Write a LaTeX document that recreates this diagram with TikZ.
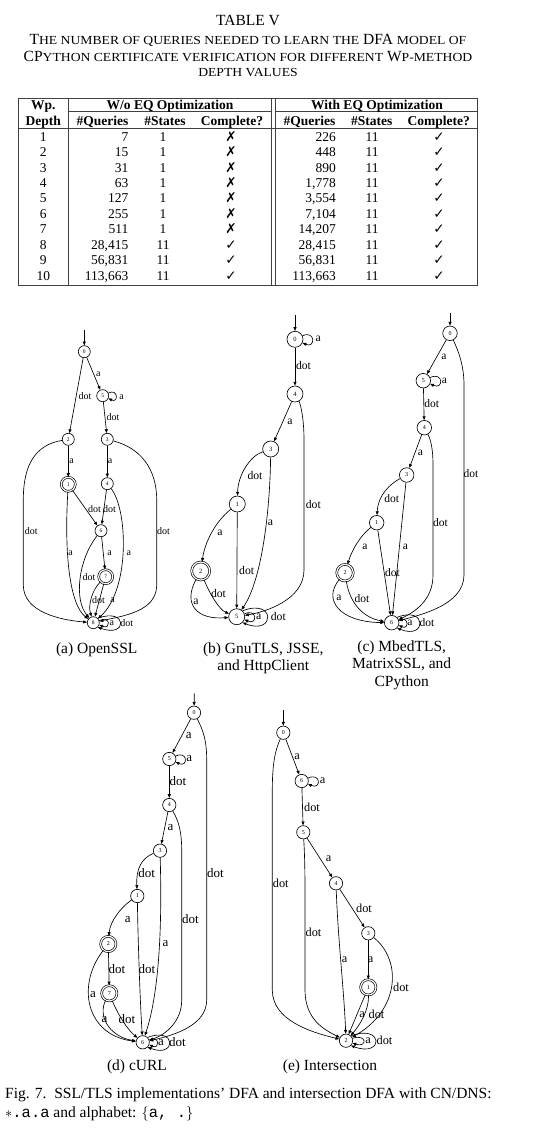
\documentclass[tikz,border=0pt]{standalone}
\usepackage{fontspec}
\setmainfont{Liberation Serif}
\setmonofont{Liberation Mono}
\newfontfamily\symf{DejaVu Sans}
\newfontfamily\scf[FakeStretch=1.11]{Liberation Serif}
\usetikzlibrary{arrows.meta}
\newcommand\smc[1]{{\scf\fontsize{12.3}{12.3}\selectfont #1}}
\newcommand\cmk{{\symf\fontsize{13.5}{13.5}\selectfont ✓}}
\newcommand\xmk{{\symf\fontsize{13.5}{13.5}\selectfont ✗}}
\tikzset{
 tline/.style={line width=0.7pt,draw=black!75},
 tcap/.style={font=\fontsize{15.5}{15.5}\selectfont,inner sep=0pt,text height=10.2pt,text depth=0pt},
 thd/.style={font=\fontsize{13.5}{13.5}\selectfont\bfseries,inner sep=0pt,text height=8.9pt,text depth=0pt},
 tcell/.style={font=\fontsize{13.5}{13.5}\selectfont,inner sep=0pt,text height=8.9pt,text depth=0pt},
 subcap/.style={font=\fontsize{15.5}{15.5}\selectfont,inner sep=0pt,text height=10.2pt,text depth=0pt},
 figcap/.style={font=\fontsize{15.5}{15.5}\selectfont,inner sep=0pt,text height=10.2pt,text depth=0pt},
 st/.style={circle,draw,line width=0.65pt,inner sep=0pt,minimum size=12pt,font=\fontsize{5.5}{5.5}\selectfont},
 acc/.style={st,double,double distance=1.2pt},
 elab/.style={inner sep=0pt,font=\fontsize{10}{10}\selectfont},
 trans/.style={-{Triangle[length=3.8pt,width=3pt]},line width=0.65pt},
}
\newcommand\trow[6]{%
 \pgfmathsetmacro\ry{136.7+15.44*(#1-1)}%
 \node[tcell] (d#1) at (43.3,\ry) {#2};
 \node[tcell,anchor=east] (q#1) at (128.5,\ry) {#3};
 \node[tcell] (s#1) at (163,\ry) {#4};
 \node[tcell] (c#1) at (231,\ry) {#5};
 \node[tcell,anchor=east] (qq#1) at (336,\ry) {#6};
 \node[tcell] (ss#1) at (372,\ry) {11};
 \node[tcell] (cc#1) at (439,\ry) {\cmk};
}
\begin{document}
\begin{tikzpicture}[x=1pt,y=-1pt]
\useasboundingbox[fill=white] (0,0) rectangle (538,1140);
% ---------- table caption
\node[tcap] (t1) at (248,20) {TABLE V};
\node[tcap] (t2) at (248,39) {T\smc{HE NUMBER OF QUERIES NEEDED TO LEARN THE} DFA \smc{MODEL OF}};
\node[tcap] (t3) at (248,56) {CP\smc{YTHON CERTIFICATE VERIFICATION FOR DIFFERENT} W\smc{P-METHOD}};
\node[tcap,text height=7.8pt] (t4) at (248,73) {\smc{DEPTH VALUES}};
% ---------- table
\draw[tline] (18.3,98.3) -- (477.7,98.3);
\draw[tline] (68.3,111.7) -- (271,111.7);
\draw[tline] (275,111.7) -- (477.7,111.7);
\draw[tline] (18.3,128.3) -- (477.7,128.3);
\draw[tline] (18.3,285.7) -- (477.7,285.7);
\foreach \x in {18.3,68.3,271,275,477.7} \draw[tline] (\x,98.3) -- (\x,285.7);
\node[thd] (h1) at (43.3,105) {Wp.};
\node[thd] (h2) at (43.3,121) {Depth};
\node[thd] (h3) at (170,105) {W/o EQ Optimization};
\node[thd] (h4) at (377,105) {With EQ Optimization};
\node[thd] (h5) at (102.5,121) {\#Queries};
\node[thd] (h6) at (165,121) {\#States};
\node[thd] (h7) at (232,121) {Complete?};
\node[thd] (h8) at (309.5,121) {\#Queries};
\node[thd] (h9) at (371.7,121) {\#States};
\node[thd] (h10) at (438.7,121) {Complete?};
\trow{1}{1}{7}{1}{\xmk}{226}
\trow{2}{2}{15}{1}{\xmk}{448}
\trow{3}{3}{31}{1}{\xmk}{890}
\trow{4}{4}{63}{1}{\xmk}{1,778}
\trow{5}{5}{127}{1}{\xmk}{3,554}
\trow{6}{6}{255}{1}{\xmk}{7,104}
\trow{7}{7}{511}{1}{\xmk}{14,207}
\trow{8}{8}{28,415}{11}{\cmk}{28,415}
\trow{9}{9}{56,831}{11}{\cmk}{56,831}
\trow{10}{10}{113,663}{11}{\cmk}{113,663}
% ---------- (a) OpenSSL
\begin{scope}[st/.append style={minimum size=12pt},acc/.append style={minimum size=14pt},elab/.append style={font=\fontsize{10}{10}\selectfont}]
\node[st] (a0) at (84.3,351.7) {0};
\node[st] (a5) at (102.7,395.7) {5};
\node[st] (a2) at (68.3,439.3) {2};
\node[st] (a3) at (107.3,439.3) {3};
\node[acc] (a1) at (68.3,484.3) {1};
\node[st] (a4) at (107.3,483.7) {4};
\node[st] (a6) at (101,530.7) {6};
\node[acc] (a7) at (105.7,576.7) {7};
\node[st] (a8) at (93.3,622.7) {8};
\coordinate (ai) at (84.3,330);
\draw[trans] (ai) -- (a0);
\draw[trans] (a0) -- (a2) node[elab,at={(85,395.7)}] {dot};
\draw[trans] (a0) -- (a5) node[elab,at={(98.3,374)}] {a};
\draw[trans] (a5.25) .. controls +(10,-5) and +(10,5) .. (a5.-25) node[elab,at={(121.7,396.7)}] {a};
\draw[trans] (a5) -- (a3) node[elab,at={(113,416.7)}] {dot};
\draw[trans] (a2) -- (a1) node[elab,at={(71.5,461)}] {a};
\draw[trans] (a3) -- (a4) node[elab,at={(110,461)}] {a};
\draw[trans] (a2) .. controls (35,445) and (23.3,465) .. (23.3,500) -- (23.3,585) .. controls (23.3,612) and (60,620) .. (a8) node[elab,at={(31.3,530.7)}] {dot};
\draw[trans] (a3) .. controls (140,448) and (156.7,468) .. (156.7,500) -- (156.7,585) .. controls (156.7,612) and (122,616) .. (a8) node[elab,at={(163.5,530.7)}] {dot};
\draw[trans] (a1) -- (a6) node[elab,at={(94.5,509)}] {dot};
\draw[trans] (a4) -- (a6) node[elab,at={(109.5,509)}] {dot};
\draw[trans] (a1) .. controls (64,555) and (70,605) .. (a8) node[elab,at={(70.5,553)}] {a};
\draw[trans] (a4) .. controls (128,510) and (130,590) .. (a8) node[elab,at={(128.8,553)}] {a};
\draw[trans] (a6) -- (a7) node[elab,at={(109.5,553)}] {a};
\draw[trans] (a6) .. controls (78,560) and (74,600) .. (a8) node[elab,at={(89,576.7)}] {dot};
\draw[trans] (a7) .. controls (92,590) and (88,605) .. (a8) node[elab,at={(98.5,600)}] {dot};
\draw[trans] (a7) -- (a8) node[elab,at={(112.5,600)}] {a};
\draw[trans] (a8.20) .. controls +(11.7,-5) and +(11.7,5) .. (a8.-20) node[elab,at={(111.8,622.7)}] {a};
\draw[trans] (a8.45) .. controls +(30,-11) and +(30,11) .. (a8.-45) node[elab,at={(126.7,622.7)}] {dot};
\end{scope}
% ---------- (b) GnuTLS
\begin{scope}[st/.append style={minimum size=16pt,font=\fontsize{6.5}{6.5}\selectfont},acc/.append style={minimum size=18pt},elab/.append style={font=\fontsize{11.7}{11.7}\selectfont}]
\node[st] (b0) at (295,339.3) {0};
\node[st] (b4) at (295,394) {4};
\node[st] (b3) at (270.7,449) {3};
\node[st] (b1) at (237.3,504) {1};
\node[acc] (b2) at (200.7,571) {2};
\node[st] (b5) at (236.7,616.7) {5};
\coordinate (bi) at (295,315);
\draw[trans] (bi) -- (b0);
\draw[trans] (b0.25) .. controls +(13,-6) and +(13,6) .. (b0.-25) node[elab,at={(318.3,339.3)}] {a};
\draw[trans] (b0) -- (b4) node[elab,at={(303.5,365.7)}] {dot};
\draw[trans] (b4) -- (b3) node[elab,at={(290,421.7)}] {a};
\draw[trans] (b3) .. controls (250,456) and (238,475) .. (b1) node[elab,at={(255,475.7)}] {dot};
\draw[trans] (b4) .. controls (301,405) and (304,420) .. (304,440) -- (304,570) .. controls (304,600) and (265,612) .. (b5) node[elab,at={(313.3,504)}] {dot};
\draw[trans] (b3) .. controls (270,510) and (262,580) .. (b5) node[elab,at={(270.5,523.3)}] {a};
\draw[trans] (b1) .. controls (215,522) and (205,542) .. (b2) node[elab,at={(220,533.3)}] {a};
\draw[trans] (b1) -- (b5) node[elab,at={(246.7,570)}] {dot};
\draw[trans] (b2) .. controls (182,605) and (198,620) .. (b5) node[elab,at={(196,601.7)}] {a};
\draw[trans] (b2) .. controls (210,595) and (220,610) .. (b5) node[elab,at={(218.5,593.3)}] {dot};
\draw[trans] (b5.20) .. controls +(13,-6) and +(13,6) .. (b5.-20) node[elab,at={(258.8,616.7)}] {a};
\draw[trans] (b5.45) .. controls +(33,-13) and +(33,13) .. (b5.-45) node[elab,at={(278.3,616.7)}] {dot};
\end{scope}
% ---------- (c) MbedTLS
\begin{scope}[st/.append style={minimum size=14.5pt,font=\fontsize{6}{6}\selectfont},acc/.append style={minimum size=16.5pt},elab/.append style={font=\fontsize{11.5}{11.5}\selectfont}]
\node[st] (c0) at (450,333.3) {0};
\node[st] (c5) at (423.3,380.7) {5};
\node[st] (c4) at (424.3,427.7) {4};
\node[st] (c3) at (406.7,475) {3};
\node[st] (c1) at (376.7,522.7) {1};
\node[acc] (c2) at (345,572.7) {2};
\node[st] (c6) at (391.7,622.7) {6};
\coordinate (ci) at (450,313.3);
\draw[trans] (ci) -- (c0);
\draw[trans] (c0) -- (c5) node[elab,at={(443.8,357.3)}] {a};
\draw[trans] (c5.25) .. controls +(13.5,-6) and +(13.5,6) .. (c5.-25) node[elab,at={(444.3,380.7)}] {a};
\draw[trans] (c5) -- (c4) node[elab,at={(431.7,403.3)}] {dot};
\draw[trans] (c4) -- (c3) node[elab,at={(420.5,452.7)}] {a};
\draw[trans] (c0) .. controls (458,350) and (464,365) .. (464,385) -- (464,575) .. controls (464,605) and (420,615) .. (c6) node[elab,at={(471,474)}] {dot};
\draw[trans] (c4) .. controls (431,440) and (433,450) .. (433,465) -- (433,575) .. controls (433,600) and (415,612) .. (c6) node[elab,at={(440.5,522.3)}] {dot};
\draw[trans] (c3) .. controls (390,484) and (378,495) .. (c1) node[elab,at={(391.7,498.3)}] {dot};
\draw[trans] (c3) -- (c6) node[elab,at={(405.5,546.7)}] {a};
\draw[trans] (c1) .. controls (360,536) and (352,550) .. (c2) node[elab,at={(365,546.7)}] {a};
\draw[trans] (c1) -- (c6) node[elab,at={(392.5,572.7)}] {dot};
\draw[trans] (c2) .. controls (322,600) and (340,622) .. (c6) node[elab,at={(339,598)}] {a};
\draw[trans] (c2) .. controls (350,605) and (365,618) .. (c6) node[elab,at={(362,598.3)}] {dot};
\draw[trans] (c6.20) .. controls +(10.3,-5) and +(10.3,5) .. (c6.-20) node[elab,at={(410,622.7)}] {a};
\draw[trans] (c6.45) .. controls +(30,-12) and +(30,12) .. (c6.-45) node[elab,at={(427,622.7)}] {dot};
\end{scope}
% ---------- (d) cURL
\begin{scope}[st/.append style={minimum size=13.3pt,font=\fontsize{6}{6}\selectfont},acc/.append style={minimum size=15.3pt},elab/.append style={font=\fontsize{13}{13}\selectfont}]
\node[st] (d0) at (194,712.7) {0};
\node[st] (d5) at (169.3,759) {5};
\node[st] (d4) at (169.3,805) {4};
\node[st] (d3) at (160,850.7) {3};
\node[st] (d1) at (137.3,896) {1};
\node[acc] (d2) at (108.3,944) {2};
\node[acc] (d7) at (109.3,993.3) {7};
\node[st] (d6) at (142.7,1042.3) {6};
\coordinate (di) at (194.3,693.3);
\draw[trans] (di) -- (d0);
\draw[trans] (d0) -- (d5) node[elab,at={(188.8,735.7)}] {a};
\draw[trans] (d5.25) .. controls +(12.5,-6) and +(12.5,6) .. (d5.-25) node[elab,at={(189.2,759)}] {a};
\draw[trans] (d5) -- (d4) node[elab,at={(178,780.7)}] {dot};
\draw[trans] (d4) -- (d3) node[elab,at={(170.5,827.3)}] {a};
\draw[trans] (d0) .. controls (203,730) and (206.7,740) .. (206.7,760) -- (206.7,1000) .. controls (206.7,1025) and (175,1035) .. (d6) node[elab,at={(215.5,873.3)}] {dot};
\draw[trans] (d4) .. controls (178,820) and (181.7,830) .. (181.7,850) -- (181.7,1000) .. controls (181.7,1022) and (165,1035) .. (d6) node[elab,at={(190.5,919.3)}] {dot};
\draw[trans] (d3) .. controls (142,858) and (136,868) .. (d1) node[elab,at={(146.7,873.3)}] {dot};
\draw[trans] (d3) .. controls (162,920) and (160,990) .. (d6) node[elab,at={(165.5,944)}] {a};
\draw[trans] (d1) .. controls (120,908) and (110,922) .. (d2) node[elab,at={(127.7,920)}] {a};
\draw[trans] (d1) .. controls (138,940) and (140,1000) .. (d6) node[elab,at={(147,969)}] {dot};
\draw[trans] (d2) -- (d7) node[elab,at={(117,969)}] {dot};
\draw[trans] (d2) .. controls (76,985) and (86,1035) .. (d6) node[elab,at={(93,995)}] {a};
\draw[trans] (d7) .. controls (98,1015) and (108,1036) .. (d6) node[elab,at={(104.5,1019.3)}] {a};
\draw[trans] (d7) .. controls (118,1015) and (128,1030) .. (d6) node[elab,at={(127,1019.3)}] {dot};
\draw[trans] (d6.20) .. controls +(10.7,-5) and +(10.7,5) .. (d6.-20) node[elab,at={(161,1042.3)}] {a};
\draw[trans] (d6.45) .. controls +(29,-11) and +(29,11) .. (d6.-45) node[elab,at={(177.5,1042.3)}] {dot};
\end{scope}
% ---------- (e) Intersection
\begin{scope}[st/.append style={minimum size=13.3pt,font=\fontsize{6}{6}\selectfont},acc/.append style={minimum size=15.3pt},elab/.append style={font=\fontsize{12.3}{12.3}\selectfont}]
\node[st] (e0) at (283.3,732.7) {0};
\node[st] (e6) at (301.7,781) {6};
\node[st] (e5) at (303.3,832.3) {5};
\node[st] (e4) at (336,883.3) {4};
\node[st] (e3) at (368.3,933.3) {3};
\node[acc] (e1) at (368.3,987.3) {1};
\node[st] (e2) at (346,1040.7) {2};
\coordinate (ei) at (283.3,710);
\draw[trans] (ei) -- (e0);
\draw[trans] (e0) -- (e6) node[elab,at={(297,756.7)}] {a};
\draw[trans] (e6.25) .. controls +(13.3,-6) and +(13.3,6) .. (e6.-25) node[elab,at={(322.7,781)}] {a};
\draw[trans] (e6) -- (e5) node[elab,at={(312,807.3)}] {dot};
\draw[trans] (e5) -- (e4) node[elab,at={(328.5,858.3)}] {a};
\draw[trans] (e4) -- (e3) node[elab,at={(364,908.3)}] {dot};
\draw[trans] (e3) -- (e1) node[elab,at={(370.5,959.3)}] {a};
\draw[trans] (e0) .. controls (275,750) and (272.3,765) .. (272.3,790) -- (272.3,990) .. controls (272.3,1020) and (310,1032) .. (e2) node[elab,at={(280.8,883.3)}] {dot};
\draw[trans] (e5) .. controls (305,860) and (305,880) .. (305,900) -- (305,990) .. controls (305,1020) and (325,1030) .. (e2) node[elab,at={(313.5,932.7)}] {dot};
\draw[trans] (e4) .. controls (338,940) and (344,990) .. (e2) node[elab,at={(344.5,959.3)}] {a};
\draw[trans] (e3) .. controls (402,960) and (400,1010) .. (e2) node[elab,at={(401,987.3)}] {dot};
\draw[trans] (e1) -- (e2) node[elab,at={(362,1014.3)}] {a};
\draw[trans] (e1) .. controls (369,1010) and (360,1025) .. (e2) node[elab,at={(376.5,1014.3)}] {dot};
\draw[trans] (e2.20) .. controls +(14.7,-5) and +(14.7,5) .. (e2.-20) node[elab,at={(368,1040.7)}] {a};
\draw[trans] (e2.45) .. controls +(33,-12) and +(33,12) .. (e2.-45) node[elab,at={(384.5,1040.7)}] {dot};
\end{scope}
% ---------- sub-captions
\node[subcap] (ca) at (96.7,648) {(a) OpenSSL};
\node[subcap] (cb1) at (263.3,648.3) {(b) GnuTLS, JSSE,};
\node[subcap] (cb2) at (263.3,665) {and HttpClient};
\node[subcap] (cc1) at (401.7,646.7) {(c) MbedTLS,};
\node[subcap] (cc2) at (401.7,663.3) {MatrixSSL, and};
\node[subcap] (cc3) at (401.7,681) {CPython};
\node[subcap] (cd) at (137,1065) {(d) cURL};
\node[subcap] (ce) at (330,1065) {(e) Intersection};
% ---------- figure caption
\node[figcap,anchor=west] (f1) at (5,1093) {Fig. 7.\ \ SSL/TLS implementations’ DFA and intersection DFA with CN/DNS:};
\node[figcap,anchor=west] (f2) at (5,1112) {$\ast$\texttt{.a.a} and alphabet: $\{$\texttt{a, .}$\}$};
\end{tikzpicture}
\end{document}
